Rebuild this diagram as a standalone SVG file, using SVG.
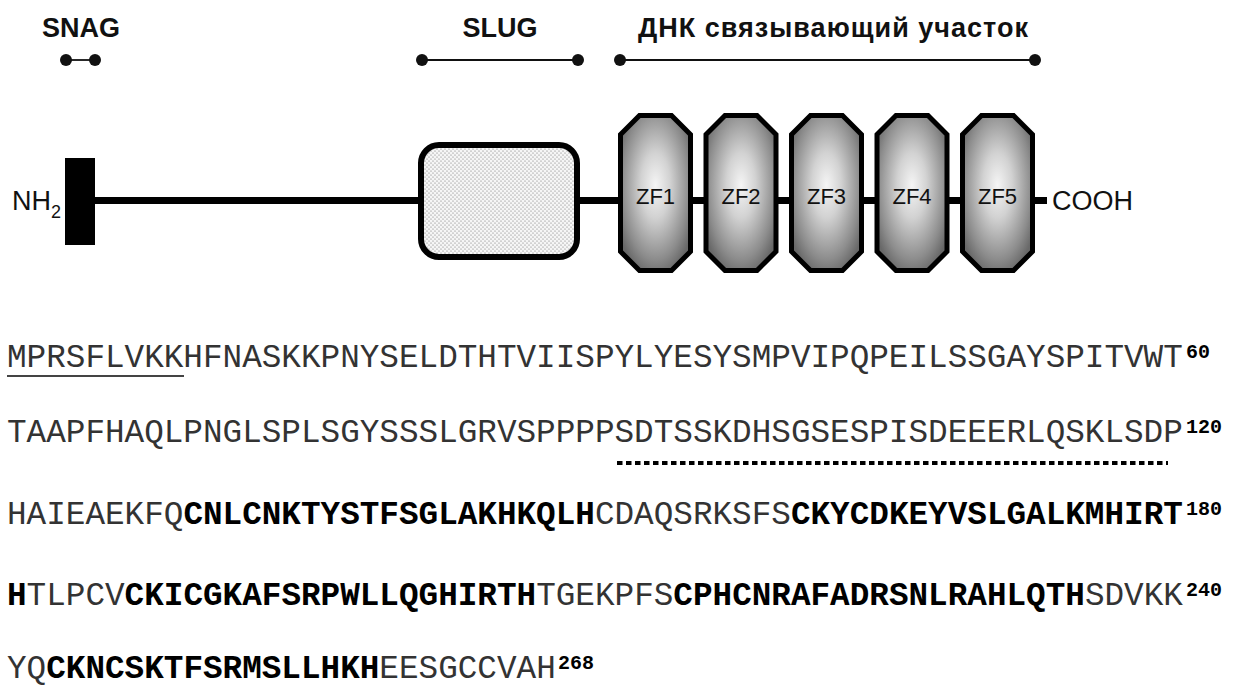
<svg xmlns="http://www.w3.org/2000/svg" width="1235" height="687" viewBox="0 0 1235 687">
<style>
.lbl{font-family:"Liberation Sans",Arial,sans-serif;font-weight:bold;font-size:27px;fill:#111}
.term{font-family:"Liberation Sans",Arial,sans-serif;font-size:27px;fill:#111}
.zf{font-family:"Liberation Sans",Arial,sans-serif;font-size:22px;fill:#111;text-anchor:middle}
.span{stroke:#111;stroke-width:1.8}
.dot{fill:#111}
.bb{stroke:#000;stroke-width:7;fill:none}
.zfbox{fill:url(#zfgrad);stroke:#000;stroke-width:5;stroke-linejoin:miter}
.seq{font-family:"Liberation Mono","Courier New",monospace;font-size:32.67px;fill:#333}
.b{font-weight:bold;fill:#000}
.sup{font-family:"Liberation Mono","Courier New",monospace;font-size:20px;font-weight:bold;fill:#000}
</style>
<defs>
<radialGradient id="zfgrad" cx="0.5" cy="0.45" r="0.6">
<stop offset="0" stop-color="#f5f5f5"/>
<stop offset="0.35" stop-color="#d2d2d2"/>
<stop offset="0.8" stop-color="#8c8c8c"/>
<stop offset="1" stop-color="#686868"/>
</radialGradient>
<pattern id="stipple" width="4" height="4" patternUnits="userSpaceOnUse">
<rect width="4" height="4" fill="#f6f6f6"/>
<circle cx="1" cy="1" r="0.6" fill="#707070"/>
<circle cx="3" cy="3" r="0.6" fill="#707070"/>
</pattern>
</defs>
<rect width="1235" height="687" fill="#fff"/>

<g id="region-labels">
<g id="snag-label">
<text class="lbl" x="81" y="37" text-anchor="middle">SNAG</text>
<line class="span" x1="66" y1="60" x2="95" y2="60"/>
<circle class="dot" cx="66" cy="60" r="6"/>
<circle class="dot" cx="95" cy="60" r="6"/>
</g>
<g id="slug-label">
<text class="lbl" x="500" y="37" text-anchor="middle">SLUG</text>
<line class="span" x1="422" y1="60" x2="578" y2="60"/>
<circle class="dot" cx="422" cy="60" r="6"/>
<circle class="dot" cx="578" cy="60" r="6"/>
</g>
<g id="dna-label">
<text class="lbl" x="638" y="37" textLength="390" lengthAdjust="spacing">ДНК связывающий участок</text>
<line class="span" x1="620" y1="60" x2="1035" y2="60"/>
<circle class="dot" cx="620" cy="60" r="6"/>
<circle class="dot" cx="1035" cy="60" r="6"/>
</g>
</g>

<g id="connectors">
<line class="bb" x1="94" y1="200.5" x2="420" y2="200.5"/>
<line class="bb" x1="578" y1="200.5" x2="620" y2="200.5"/>
<line class="bb" x1="691" y1="200.5" x2="706" y2="200.5"/>
<line class="bb" x1="776" y1="200.5" x2="792" y2="200.5"/>
<line class="bb" x1="862" y1="200.5" x2="877" y2="200.5"/>
<line class="bb" x1="947" y1="200.5" x2="963" y2="200.5"/>
<line class="bb" x1="1033" y1="200.5" x2="1047" y2="200.5"/>
</g>

<g id="nh2">
<text class="term" x="12" y="210">NH<tspan font-size="18" y="218">2</tspan></text>
<rect x="65" y="158" width="30" height="87" fill="#000"/>
</g>

<g id="slug-domain">
<rect x="421" y="145" width="156" height="112" rx="18" ry="18" fill="url(#stipple)" stroke="#000" stroke-width="6"/>
</g>

<g id="zf1">
<path class="zfbox" d="M639.5 115.5 H671.5 L690.5 134.5 V251.5 L671.5 270.5 H639.5 L620.5 251.5 V134.5 Z"/>
<text class="zf" x="655.5" y="204">ZF1</text>
</g>
<g id="zf2">
<path class="zfbox" d="M725 115.5 H757 L776 134.5 V251.5 L757 270.5 H725 L706 251.5 V134.5 Z"/>
<text class="zf" x="741" y="204">ZF2</text>
</g>
<g id="zf3">
<path class="zfbox" d="M810.5 115.5 H842.5 L861.5 134.5 V251.5 L842.5 270.5 H810.5 L791.5 251.5 V134.5 Z"/>
<text class="zf" x="826.5" y="204">ZF3</text>
</g>
<g id="zf4">
<path class="zfbox" d="M896 115.5 H928 L947 134.5 V251.5 L928 270.5 H896 L877 251.5 V134.5 Z"/>
<text class="zf" x="912" y="204">ZF4</text>
</g>
<g id="zf5">
<path class="zfbox" d="M981.5 115.5 H1013.5 L1032.5 134.5 V251.5 L1013.5 270.5 H981.5 L962.5 251.5 V134.5 Z"/>
<text class="zf" x="997.5" y="204">ZF5</text>
</g>

<g id="cooh">
<text class="term" x="1052" y="210">COOH</text>
</g>

<g id="sequence">
<text class="seq" x="7" y="367">MPRSFLVKKHFNASKKPNYSELDTHTVIISPYLYESYSMPVIPQPEILSSGAYSPITVWT</text>
<text class="sup" x="1186" y="358">60</text>
<line x1="7" y1="376" x2="184" y2="376" stroke="#444" stroke-width="2"/>

<text class="seq" x="7" y="442">TAAPFHAQLPNGLSPLSGYSSSLGRVSPPPPSDTSSKDHSGSESPISDEEERLQSKLSDP</text>
<text class="sup" x="1186" y="433">120</text>
<line x1="617" y1="463" x2="1168" y2="463" stroke="#000" stroke-width="4" stroke-dasharray="5.5 3.5"/>

<text class="seq" x="7" y="524">HAIEAEKFQ<tspan class="b">CNLCNKTYSTFSGLAKHKQLH</tspan>CDAQSRKSFS<tspan class="b">CKYCDKEYVSLGALKMHIRT</tspan></text>
<text class="sup" x="1186" y="515">180</text>

<text class="seq" x="7" y="605"><tspan class="b">H</tspan>TLPCV<tspan class="b">CKICGKAFSRPWLLQGHIRTH</tspan>TGEKPFS<tspan class="b">CPHCNRAFADRSNLRAHLQTH</tspan>SDVKK</text>
<text class="sup" x="1186" y="596">240</text>

<text class="seq" x="7" y="678">YQ<tspan class="b">CKNCSKTFSRMSLLHKH</tspan>EESGCCVAH</text>
<text class="sup" x="558" y="669">268</text>
</g>
</svg>
